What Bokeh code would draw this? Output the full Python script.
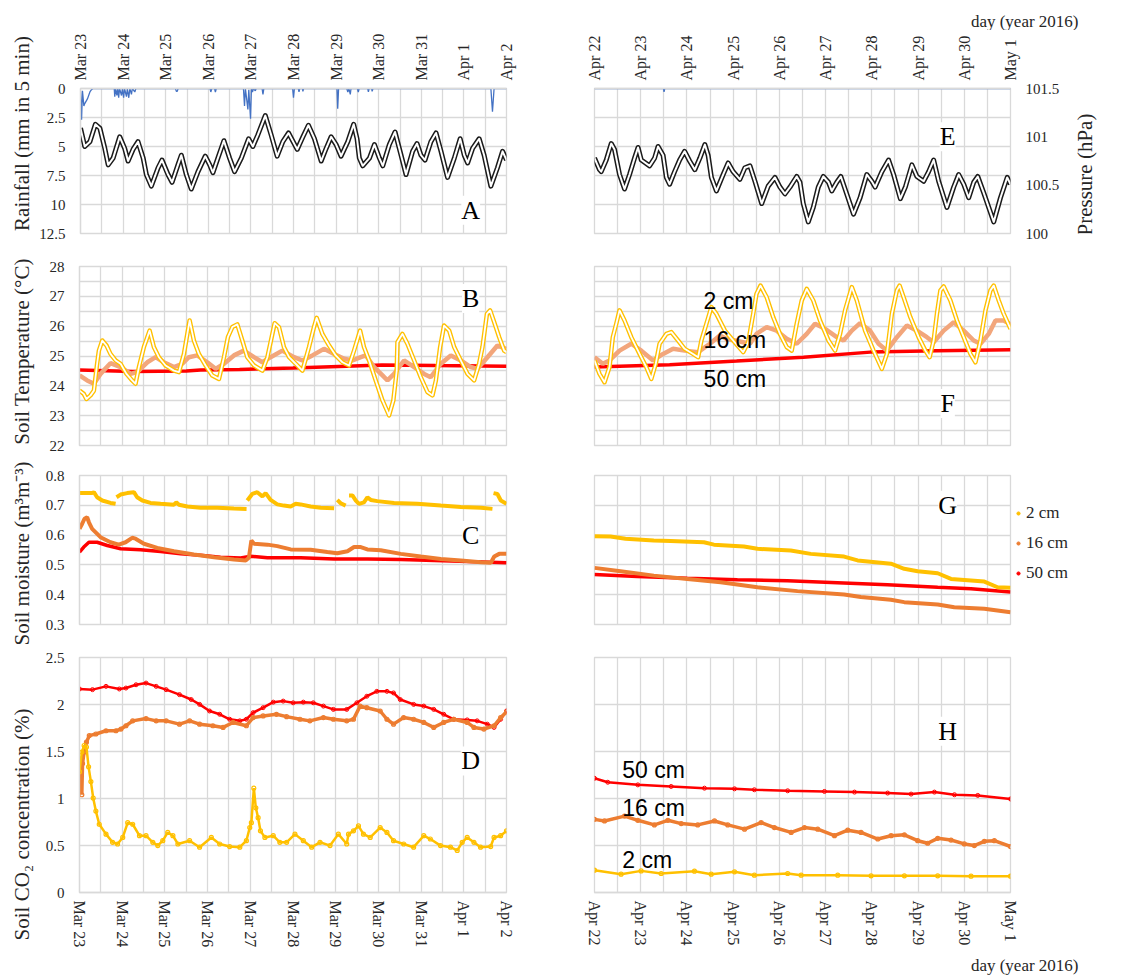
import math
from bokeh.plotting import figure
from bokeh.layouts import column, row
from bokeh.models import Range1d, LinearAxis, FixedTicker, Label, Legend, LegendItem, Title
from bokeh.embed import file_html
from bokeh.resources import INLINE

NAN = float("nan")

LEFT_DAY_LABELS = ["Mar 23", "Mar 24", "Mar 25", "Mar 26", "Mar 27", "Mar 28",
                   "Mar 29", "Mar 30", "Mar 31", "Apr 1", "Apr 2"]
RIGHT_DAY_LABELS = ["Apr 22", "Apr 23", "Apr 24", "Apr 25", "Apr 26", "Apr 27",
                    "Apr 28", "Apr 29", "Apr 30", "May 1"]

# All series: (hours since first midnight of the period, value)
RAIN_L = [(0, 0.2), (0.6, 2.7), (1.1, 0.2), (1.9, 1.5), (2.4, 1.3), (3.9, 0.9), (5.3, 0.3), (6.2, 0.1), (7.1, 0),
          (19.0, 0), (19.3, 0.7), (19.8, 0), (20.5, 0.6), (21.0, 0), (21.5, 0.8), (22.0, 0), (23.1, 0.6), (23.6, 0),
          (24.3, 0.8), (24.8, 0), (25.9, 0.7), (26.4, 0), (27.2, 0.8), (27.8, 0), (28.7, 0.5), (29.2, 0), (30.6, 0.3),
          (31.2, 0), (53.5, 0), (54.0, 0.25), (54.5, 0.25), (55.0, 0), (73.0, 0), (73.4, 0.3), (74.0, 0), (75.5, 0),
          (76.0, 0.3), (76.5, 0), (91.8, 0), (92.4, 1.5), (92.9, 0), (94.3, 1.8), (94.8, 0.1), (95.8, 2.6), (96.3, 0),
          (96.9, 0.3), (97.4, 0), (98.5, 0.2), (99.0, 0), (102.3, 0), (102.8, 0.5), (103.3, 0), (119.5, 0), (120.0, 0.8),
          (120.5, 0), (122.7, 0), (123.1, 0.3), (123.5, 0), (125.0, 0), (125.3, 0.25), (125.7, 0), (144.5, 0),
          (144.9, 1.75), (145.4, 0), (150.0, 0), (150.6, 0.3), (151.2, 0), (152.0, 0.5), (152.4, 0), (156.0, 0),
          (156.5, 0.3), (157.0, 0), (161.8, 0), (162.2, 0.3), (162.6, 0), (164.0, 0), (164.3, 0.25), (164.8, 0),
          (231.2, 0), (232.1, 2.0), (233.0, 0), (240.0, 0)]
RAIN_R = [(0, 0), (35.8, 0), (36.1, 0.3), (36.5, 0), (216, 0)]

PRES_L = [(0, 101.09), (2.4, 100.90), (5.3, 100.95), (8.4, 101.13), (10.9, 101.09), (13.7, 100.88), (15.6, 100.71),
          (18.4, 100.78), (22.1, 101.00), (24.9, 100.88), (26.8, 100.75), (29.6, 100.87), (32.4, 100.95), (35.3, 100.78),
          (37.1, 100.61), (39.9, 100.49), (43.7, 100.68), (45.9, 100.76), (49.3, 100.61), (51.6, 100.53), (54.9, 100.71),
          (56.8, 100.81), (59.6, 100.61), (62.4, 100.46), (66.2, 100.64), (70.3, 100.80), (72.8, 100.71), (74.6, 100.63),
          (77.4, 100.78), (80.8, 100.96), (84.0, 100.78), (86.8, 100.64), (90.6, 100.78), (94.7, 100.98), (97.1, 100.90),
          (99.9, 101.02), (104.1, 101.22), (107.4, 101.02), (110.8, 100.80), (114.0, 100.95), (117.2, 101.04),
          (122.1, 100.87), (125.3, 101.00), (128.4, 101.12), (131.8, 100.98), (135.6, 100.75), (138.4, 100.88),
          (141.2, 101.00), (144.0, 100.92), (146.8, 100.80), (150.6, 100.95), (153.9, 101.13), (155.8, 100.98),
          (157.1, 100.78), (159.0, 100.70), (162.8, 100.78), (165.6, 100.92), (168.4, 100.78), (170.3, 100.70),
          (174.0, 100.92), (177.2, 101.05), (180.6, 100.81), (183.4, 100.61), (187.1, 100.85), (189.6, 100.93),
          (191.8, 100.81), (194.1, 100.76), (197.4, 100.95), (200.3, 101.04), (203.1, 100.85), (206.8, 100.58),
          (210.6, 100.78), (213.9, 100.98), (216.2, 100.81), (218.1, 100.73), (220.9, 100.88), (224.6, 100.98),
          (227.4, 100.81), (231.2, 100.49), (234.9, 100.68), (237.8, 100.85), (240.0, 100.76)]
PRES_R = [(0, 100.78), (2.6, 100.66), (3.5, 100.64), (6.1, 100.76), (8.7, 100.93), (10.4, 100.87), (13.0, 100.61),
          (15.6, 100.46), (18.2, 100.61), (20.8, 100.78), (22.6, 100.89), (24.3, 100.76), (28.6, 100.70), (31.2, 100.78),
          (33.0, 100.90), (35.6, 100.81), (37.3, 100.58), (39.0, 100.51), (41.6, 100.64), (44.2, 100.76), (46.8, 100.85),
          (49.4, 100.75), (52.1, 100.66), (54.7, 100.78), (57.3, 100.92), (59.0, 100.81), (60.7, 100.58), (63.3, 100.44),
          (66.8, 100.61), (69.4, 100.73), (72.0, 100.64), (75.5, 100.56), (78.1, 100.68), (80.7, 100.70), (83.3, 100.54),
          (86.8, 100.31), (90.2, 100.49), (93.7, 100.58), (96.3, 100.48), (98.9, 100.41), (101.5, 100.48),
          (105.0, 100.59), (106.7, 100.53), (108.4, 100.31), (111.0, 100.12), (113.6, 100.27), (116.2, 100.48),
          (118.8, 100.59), (121.5, 100.53), (123.2, 100.44), (125.8, 100.53), (127.9, 100.59), (130.1, 100.46),
          (134.5, 100.20), (137.9, 100.37), (141.4, 100.61), (144.0, 100.54), (145.7, 100.48), (149.2, 100.64),
          (152.7, 100.76), (155.3, 100.61), (158.8, 100.36), (161.4, 100.48), (164.8, 100.71), (167.4, 100.59),
          (170.9, 100.54), (173.5, 100.64), (176.1, 100.76), (178.7, 100.54), (183.0, 100.27), (186.5, 100.48),
          (189.1, 100.61), (191.7, 100.51), (194.3, 100.37), (196.9, 100.53), (199.0, 100.59), (202.1, 100.42),
          (207.3, 100.12), (210.8, 100.37), (214.3, 100.58), (216.0, 100.51)]

T2_L = [(0, 23.84), (2.4, 23.73), (3.9, 23.56), (6.2, 23.68), (8.1, 23.84), (9.9, 24.74), (10.9, 25.18), (12.8, 25.52),
        (15.2, 25.35), (17.4, 25.07), (20.3, 24.85), (23.1, 24.74), (26.4, 24.40), (29.6, 24.18), (31.5, 24.07),
        (33.4, 24.63), (36.2, 25.30), (39.4, 25.85), (41.8, 25.30), (44.6, 24.96), (48.4, 24.68), (53.1, 24.51),
        (55.9, 24.46), (58.7, 25.07), (61.9, 26.19), (64.3, 25.52), (67.1, 25.07), (70.9, 24.68), (74.6, 24.35),
        (78.4, 24.23), (81.2, 24.96), (83.4, 25.63), (85.9, 25.97), (88.7, 26.06), (91.5, 25.52), (94.3, 24.96),
        (98.1, 24.68), (102.8, 24.51), (105.6, 24.96), (108.4, 25.74), (109.7, 26.10), (112.1, 25.97), (114.9, 25.30),
        (117.8, 24.96), (121.5, 24.74), (125.3, 24.51), (129.0, 25.30), (131.8, 25.97), (133.3, 26.28), (136.5, 25.74),
        (140.3, 25.35), (144.0, 25.02), (147.8, 24.79), (151.5, 24.68), (154.3, 25.18), (157.7, 25.85), (159.9, 25.30),
        (162.8, 24.85), (166.5, 24.18), (170.3, 23.51), (174.0, 23.01), (176.4, 23.51), (178.3, 24.51), (178.7, 25.46),
        (181.5, 25.74), (184.3, 25.41), (188.1, 24.85), (191.8, 24.29), (195.6, 23.79), (198.4, 23.68), (200.3, 24.18),
        (202.7, 25.30), (204.9, 26.02), (207.8, 25.85), (210.6, 25.30), (214.3, 24.85), (218.1, 24.40), (221.8, 24.18),
        (224.6, 24.74), (226.5, 25.30), (229.0, 26.41), (230.8, 26.53), (233.1, 26.13), (235.9, 25.63), (238.7, 25.18),
        (240.0, 25.13)]
T16_L = [(0, 24.35), (4.3, 24.18), (8.1, 24.07), (11.8, 24.40), (17.4, 24.76), (23.1, 24.63), (28.7, 24.40),
         (32.4, 24.46), (38.1, 24.79), (42.8, 24.96), (47.4, 24.79), (53.1, 24.63), (57.8, 24.74), (61.5, 24.96),
         (66.2, 25.02), (71.8, 24.79), (76.5, 24.57), (81.2, 24.74), (86.8, 25.02), (92.4, 25.18), (98.1, 24.96),
         (102.8, 24.79), (107.4, 24.96), (114.0, 25.18), (120.6, 24.96), (125.3, 24.85), (130.9, 25.02), (137.4, 25.24),
         (143.1, 25.07), (148.7, 24.91), (153.4, 24.85), (158.1, 24.96), (160.9, 25.02), (165.6, 24.63), (170.3, 24.35),
         (173.1, 24.18), (176.8, 24.40), (182.4, 24.85), (188.1, 24.63), (193.7, 24.40), (197.4, 24.29), (203.1, 24.74),
         (208.7, 25.02), (214.3, 24.85), (219.9, 24.63), (223.7, 24.57), (229.3, 24.96), (234.9, 25.35), (240.0, 25.24)]
T50_L = [(0, 24.53), (30, 24.48), (60, 24.50), (68, 24.53), (90, 24.55), (120, 24.60), (150, 24.66), (170, 24.70),
         (200, 24.68), (240, 24.66)]

T2_R = [(0, 24.85), (2.6, 24.40), (5.2, 24.12), (7.8, 24.63), (9.5, 25.63), (11.3, 26.08), (13.0, 26.53), (15.6, 26.19),
        (19.1, 25.63), (23.4, 25.07), (26.9, 24.63), (29.5, 24.23), (31.8, 24.74), (33.8, 25.41), (37.3, 25.74),
        (39.9, 25.80), (43.4, 25.52), (46.8, 25.24), (51.2, 25.07), (53.8, 24.96), (55.5, 25.52), (58.1, 26.08),
        (60.7, 26.64), (63.3, 26.41), (67.7, 25.85), (72.0, 25.52), (77.2, 25.13), (79.8, 25.46), (82.4, 26.41),
        (84.1, 27.08), (86.2, 27.36), (89.4, 26.97), (92.8, 26.30), (96.3, 25.74), (99.8, 25.30), (102.4, 25.18),
        (105.0, 26.08), (107.6, 26.86), (110.2, 27.25), (113.6, 26.86), (117.1, 26.19), (121.5, 25.52), (124.9, 25.18),
        (127.5, 25.74), (130.1, 26.53), (133.6, 27.31), (136.2, 26.86), (140.5, 25.85), (144.9, 25.18), (149.2, 24.57),
        (151.8, 25.07), (154.4, 26.41), (157.0, 27.20), (158.4, 27.36), (160.5, 26.97), (164.0, 26.30), (168.3, 25.63),
        (171.8, 25.18), (174.0, 24.96), (176.1, 25.52), (177.8, 26.41), (179.6, 27.20), (181.3, 27.33), (184.8, 26.86),
        (188.2, 26.19), (191.7, 25.63), (195.2, 25.07), (197.8, 24.79), (200.4, 25.52), (203.0, 26.53), (205.6, 27.20),
        (207.3, 27.36), (209.9, 26.86), (212.5, 26.41), (216.0, 25.91)]
T16_R = [(0, 24.96), (4.3, 24.74), (7.8, 24.85), (13.0, 25.18), (19.1, 25.41), (24.3, 25.18), (30.4, 24.85),
         (35.6, 25.07), (40.8, 25.24), (46.8, 25.18), (53.8, 25.13), (59.9, 25.41), (65.1, 25.69), (68.5, 25.58),
         (77.2, 25.46), (80.7, 25.41), (84.1, 25.74), (89.4, 25.97), (94.6, 25.85), (99.8, 25.58), (105.0, 25.41),
         (110.2, 25.74), (114.5, 26.08), (119.7, 25.91), (125.8, 25.63), (129.3, 25.52), (133.6, 25.85), (137.9, 26.10),
         (143.1, 25.85), (147.5, 25.41), (151.8, 25.18), (157.0, 25.63), (162.2, 26.02), (167.4, 25.85), (172.6, 25.63),
         (176.1, 25.46), (181.3, 25.85), (186.5, 26.13), (191.7, 25.85), (196.9, 25.52), (200.4, 25.41), (204.7, 25.74),
         (208.2, 26.19), (212.5, 26.19), (216.0, 26.06)]
T50_R = [(0, 24.63), (39, 24.71), (73.8, 24.83), (108.5, 24.96), (143.2, 25.13), (177.9, 25.18), (216, 25.21)]

M2_L = [(0, 0.741), (7.1, 0.741), (8.1, 0.744), (9.9, 0.727), (12.8, 0.716), (17.4, 0.708), (20.3, 0.705), (20.5, NAN),
        (20.8, 0.727), (23.1, 0.736), (26.8, 0.741), (30.6, 0.744), (32.4, 0.727), (35.3, 0.716), (39.9, 0.708),
        (45.6, 0.705), (53.1, 0.702), (54.4, 0.710), (55.9, 0.702), (60.6, 0.696), (68.1, 0.692), (77.4, 0.692),
        (86.8, 0.689), (93.9, 0.688), (94.1, NAN), (94.3, 0.716), (97.1, 0.738), (99.9, 0.744), (102.8, 0.730),
        (104.6, 0.741), (107.4, 0.718), (111.2, 0.703), (114.9, 0.699), (118.7, 0.696), (121.5, 0.705), (124.3, 0.703),
        (129.9, 0.696), (135.6, 0.692), (143.1, 0.690), (144.0, NAN), (144.9, 0.718), (146.8, 0.707), (149.6, 0.699),
        (150.5, NAN), (151.5, 0.733), (153.4, 0.733), (155.3, 0.716), (157.1, 0.705), (159.9, 0.710), (161.8, 0.727),
        (163.7, 0.718), (167.4, 0.714), (176.8, 0.708), (189.9, 0.705), (203.1, 0.699), (214.3, 0.694), (225.6, 0.692),
        (232.1, 0.688), (232.4, NAN), (232.7, 0.741), (234.9, 0.738), (236.8, 0.716), (240.0, 0.705)]
M16_L = [(0, 0.621), (1.5, 0.638), (2.8, 0.655), (4.3, 0.660), (5.3, 0.643), (7.1, 0.621), (11.8, 0.593), (17.4, 0.576),
         (22.1, 0.568), (25.9, 0.576), (29.6, 0.591), (31.5, 0.588), (36.2, 0.571), (43.7, 0.557), (53.1, 0.546),
         (64.3, 0.535), (75.6, 0.526), (86.8, 0.518), (93.4, 0.515), (95.2, 0.524), (96.6, 0.582), (98.1, 0.571),
         (105.6, 0.568), (111.2, 0.563), (118.7, 0.552), (129.9, 0.551), (139.3, 0.543), (144.9, 0.539), (150.6, 0.546),
         (154.3, 0.560), (158.1, 0.560), (161.8, 0.552), (169.3, 0.549), (180.6, 0.537), (191.8, 0.528), (203.1, 0.520),
         (214.3, 0.515), (225.6, 0.509), (231.2, 0.507), (233.1, 0.528), (235.9, 0.537), (240.0, 0.537)]
M50_L = [(0, 0.543), (2.4, 0.560), (5.3, 0.576), (9.9, 0.576), (15.6, 0.565), (23.1, 0.554), (34.3, 0.551),
         (45.6, 0.545), (56.8, 0.537), (68.1, 0.532), (79.3, 0.526), (90.6, 0.523), (96.2, 0.529), (105.6, 0.524),
         (124.3, 0.524), (143.1, 0.520), (161.8, 0.520), (180.6, 0.518), (199.3, 0.515), (218.1, 0.511), (240.0, 0.507)]

M2_R = [(0, 0.596), (8.3, 0.595), (16.1, 0.588), (30.8, 0.582), (39.5, 0.580), (56.8, 0.576), (62.0, 0.568),
        (77.6, 0.562), (84.6, 0.554), (101.9, 0.548), (112.3, 0.537), (129.6, 0.528), (136.6, 0.515), (153.9, 0.504),
        (160.8, 0.487), (167.8, 0.479), (178.2, 0.472), (185.1, 0.453), (202.4, 0.444), (209.3, 0.425), (216.0, 0.423)]
M16_R = [(0, 0.490), (13.5, 0.479), (30.8, 0.464), (48.2, 0.453), (65.5, 0.442), (84.6, 0.425), (105.4, 0.412),
         (129.6, 0.401), (138.3, 0.392), (153.9, 0.383), (160.8, 0.375), (178.2, 0.367), (186.8, 0.358), (202.4, 0.353),
         (216.0, 0.341)]
M50_R = [(0, 0.468), (22.2, 0.461), (48.2, 0.455), (74.2, 0.450), (100.2, 0.447), (126.1, 0.440), (152.1, 0.433),
         (178.2, 0.425), (195.5, 0.420), (216.0, 0.409)]

C50_L = [(0, 2.165), (7.3, 2.158), (14.9, 2.193), (22.4, 2.165), (26.1, 2.175), (31.8, 2.210), (37.4, 2.228),
         (43.1, 2.193), (48.7, 2.158), (56.2, 2.105), (62.8, 2.053), (67.5, 2.001), (73.1, 1.931), (78.8, 1.896),
         (84.4, 1.843), (90.1, 1.826), (93.8, 1.843), (97.6, 1.913), (103.2, 1.966), (108.9, 2.025), (114.5, 2.036),
         (120.1, 2.018), (125.8, 2.025), (131.4, 2.018), (137.1, 1.983), (142.7, 1.948), (150.2, 1.948), (155.9, 2.018),
         (161.5, 2.088), (167.1, 2.140), (172.8, 2.140), (176.5, 2.123), (180.3, 2.053), (187.8, 2.001), (193.5, 1.983),
         (199.1, 1.948), (204.7, 1.896), (210.4, 1.843), (217.9, 1.836), (223.5, 1.826), (229.2, 1.791), (233.0, 1.756),
         (236.7, 1.843), (240.0, 1.931)]
C16_L = [(0, 1.320), (0.4, 1.302), (1.3, 1.040), (1.7, 1.372), (2.6, 1.494), (3.9, 1.599), (5.5, 1.669), (9.2, 1.686),
         (14.9, 1.721), (20.5, 1.721), (23.3, 1.739), (26.1, 1.774), (29.9, 1.826), (37.4, 1.850), (43.1, 1.826),
         (48.7, 1.826), (56.2, 1.791), (61.9, 1.826), (67.5, 1.791), (75.0, 1.774), (80.7, 1.756), (86.3, 1.809),
         (93.8, 1.774), (97.6, 1.861), (103.2, 1.878), (110.7, 1.896), (116.4, 1.871), (123.9, 1.843), (129.5, 1.826),
         (137.1, 1.861), (142.7, 1.843), (150.2, 1.826), (154.0, 1.843), (157.7, 1.983), (161.5, 1.966), (169.0, 1.931),
         (172.8, 1.843), (176.5, 1.791), (182.2, 1.861), (187.8, 1.843), (193.5, 1.809), (199.1, 1.756), (204.7, 1.809),
         (210.4, 1.843), (217.9, 1.809), (221.7, 1.756), (227.3, 1.739), (233.0, 1.774), (236.7, 1.861), (240.0, 1.920)]
C2_L = [(0, 1.285), (1.3, 1.494), (2.6, 1.564), (3.9, 1.547), (5.1, 1.337), (6.4, 1.180), (7.7, 1.005), (9.2, 0.866),
        (11.1, 0.726), (14.9, 0.621), (18.6, 0.534), (21.4, 0.516), (24.3, 0.586), (27.1, 0.743), (29.9, 0.726),
        (33.7, 0.604), (37.4, 0.604), (41.2, 0.534), (44.0, 0.499), (46.8, 0.551), (49.6, 0.639), (52.5, 0.604),
        (55.3, 0.516), (61.9, 0.551), (67.5, 0.482), (74.1, 0.586), (78.8, 0.516), (84.4, 0.489), (90.1, 0.482),
        (93.8, 0.551), (95.7, 0.691), (96.6, 0.743), (98.0, 1.110), (99.1, 0.901), (100.4, 0.796), (101.7, 0.656),
        (104.2, 0.586), (108.9, 0.604), (112.6, 0.534), (116.4, 0.534), (121.1, 0.621), (125.8, 0.551), (130.5, 0.482),
        (135.2, 0.534), (140.8, 0.499), (145.5, 0.621), (150.2, 0.516), (151.2, 0.621), (154.0, 0.656), (156.8, 0.708),
        (159.6, 0.621), (163.4, 0.586), (169.0, 0.691), (172.8, 0.639), (176.5, 0.551), (182.2, 0.516), (187.8, 0.482),
        (193.5, 0.604), (197.2, 0.569), (202.9, 0.499), (208.5, 0.482), (212.3, 0.447), (215.1, 0.534), (217.9, 0.586),
        (221.7, 0.534), (225.4, 0.482), (231.1, 0.489), (233.0, 0.586), (236.7, 0.604), (240.0, 0.656)]

C50_R = [(0, 1.215), (6.9, 1.173), (22.5, 1.145), (39.8, 1.128), (57.1, 1.110), (72.7, 1.103), (83.0, 1.093),
         (100.3, 1.082), (119.4, 1.075), (135.0, 1.068), (152.2, 1.058), (164.4, 1.047), (176.5, 1.068), (186.9, 1.040),
         (199.0, 1.033), (216.0, 0.995)]
C16_R = [(0, 0.778), (5.2, 0.761), (15.6, 0.813), (22.5, 0.768), (31.1, 0.719), (38.1, 0.768), (45.0, 0.733),
         (53.6, 0.719), (62.3, 0.761), (69.2, 0.719), (77.9, 0.674), (86.5, 0.744), (93.4, 0.691), (102.1, 0.639),
         (109.0, 0.691), (115.9, 0.674), (124.6, 0.604), (131.5, 0.663), (138.4, 0.639), (147.1, 0.569), (154.0, 0.604),
         (160.9, 0.614), (167.8, 0.551), (173.0, 0.524), (178.2, 0.576), (185.1, 0.558), (192.0, 0.517), (197.2, 0.499),
         (202.4, 0.544), (207.6, 0.551), (216.0, 0.489)]
C2_R = [(0, 0.237), (13.8, 0.195), (24.2, 0.230), (34.6, 0.202), (51.9, 0.227), (60.6, 0.195), (72.7, 0.220),
        (83.0, 0.184), (100.3, 0.202), (107.3, 0.184), (126.3, 0.184), (143.6, 0.177), (160.9, 0.177), (178.2, 0.177),
        (195.5, 0.174), (216.0, 0.174)]

Y_LABELS = ["Rainfall (mm in 5 min)", "Soil Temperature (°C)", "Soil moisture (m³m⁻³)", "Soil CO₂ concentration (%)"]
DEPTHS = ["2 cm", "16 cm", "50 cm"]
X_TITLE = "day (year 2016)"
P_TITLE = "Pressure (hPa)"

# ---------------------------------------------------------------- styling
SERIF = "Liberation Serif"
SANS = "Liberation Sans"
GRID = "#D9D9D9"
TXT = "#262626"
YEL = "#FFC000"
ORA = "#ED7D31"
SAL = "#F2A67C"
RED = "#FF0000"
BLUE = "#4472C4"

STRIP_W = 36
TOP_H = 30
FIG_W = [514, 597]
MB_L = [43, 44]
MB_R = [44, 137]
HEIGHTS = [249 - TOP_H, 211, 180, 339]
TOPS = [86 - TOP_H, 17, 15, 17]
BOTS = [16, 15, 16, 83]
LEG_W = 133
PSTRIP_W = 85


def xy(pairs):
    return [h / 24.0 for h, _ in pairs], [v for _, v in pairs]


def blank(w, hgt, yflip=True):
    p = figure(width=w, height=hgt, x_range=Range1d(0, w), y_range=Range1d(hgt, 0) if yflip else Range1d(0, hgt),
               output_backend="svg", toolbar_location=None, title=None, min_border=0,
               x_axis_location=None, y_axis_location=None, outline_line_color=None,
               background_fill_color="white", border_fill_color="white")
    p.grid.visible = False
    return p


def make(col, r, y_range, yticks, ygrid, width=None, mb_right=None):
    ndays = 10 if col == 0 else 9
    labels = LEFT_DAY_LABELS if col == 0 else RIGHT_DAY_LABELS
    p = figure(width=width or FIG_W[col], height=HEIGHTS[r], x_range=Range1d(0, ndays), y_range=y_range,
               output_backend="svg", toolbar_location=None, title=None,
               x_axis_location="above" if r == 0 else "below",
               min_border_left=MB_L[col], min_border_right=mb_right if mb_right is not None else MB_R[col],
               min_border_top=TOPS[r], min_border_bottom=BOTS[r],
               background_fill_color="white", border_fill_color="white",
               outline_line_color=GRID, outline_line_width=1.3)
    xa = p.xaxis[0]
    xa.ticker = FixedTicker(ticks=list(range(ndays + 1)))
    xa.major_label_overrides = {i: labels[i] for i in range(ndays + 1)}
    xa.major_label_orientation = "vertical"
    xa.major_label_standoff = 8
    if r in (1, 2):
        xa.visible = False
    ya = p.yaxis[0]
    ya.ticker = FixedTicker(ticks=yticks)
    ya.major_label_standoff = 15
    if col == 1:
        ya.visible = False
    for ax in (xa, ya):
        ax.axis_line_color = GRID
        ax.axis_line_width = 1.3
        ax.major_tick_line_color = None
        ax.minor_tick_line_color = None
        ax.major_tick_out = 0
        ax.major_tick_in = 0
        ax.major_label_text_font = SERIF
        ax.major_label_text_color = TXT
    xa.major_label_text_font_size = "16px"
    ya.major_label_text_font_size = "15px"
    p.xgrid.ticker = FixedTicker(ticks=[i * 0.5 for i in range(2 * ndays + 1)])
    p.ygrid.ticker = FixedTicker(ticks=ygrid)
    p.grid.grid_line_color = GRID
    p.grid.grid_line_width = 1.3
    return p


def letter(p, x, y, t):
    p.add_layout(Label(x=x, y=y, text=t, text_align="center", text_baseline="middle",
                       text_font=SERIF, text_font_size="26px", text_color="black",
                       background_fill_color="white", background_fill_alpha=1.0))


def note(p, x, y, t):
    p.add_layout(Label(x=x, y=y, text=t, text_align="left", text_baseline="middle",
                       text_font=SANS, text_font_size="23px", text_color="black"))


def tube(p, pairs, color, outer=5, inner=2.2, **kw):
    x, y = xy(pairs)
    p.line(x, y, line_color=color, line_width=outer, line_join="round", **kw)
    p.line(x, y, line_color="white", line_width=inner, line_join="round", **kw)


def dotted(p, pairs, color, size=5, lw=1.0, line_w=1.0, **kw):
    x, y = xy(pairs)
    p.line(x, y, line_color=color, line_width=line_w, **kw)
    p.scatter(x, y, marker="circle", size=size, fill_color=None, line_color=color, line_width=lw, **kw)


def band(p, pairs, color, w):
    x, y = xy(pairs)
    p.line(x, y, line_color=color, line_width=w)


# ---------------------------------------------------------------- text strips
strip = blank(STRIP_W, 979)
for txt, yc in zip(Y_LABELS, (133, 351, 553, 824)):
    strip.add_layout(Label(x=21, y=yc, text=txt, angle=math.pi / 2, text_align="center",
                           text_baseline="middle", text_font=SERIF, text_font_size="21px",
                           text_color=TXT))

top = blank(1147 - STRIP_W, TOP_H)
top.add_layout(Label(x=1078 - STRIP_W, y=21, text=X_TITLE, text_align="right", text_baseline="middle",
                     text_font=SERIF, text_font_size="17px", text_color=TXT))

pstrip = blank(PSTRIP_W, HEIGHTS[0])
pstrip.add_layout(Label(x=22, y=160 - TOP_H, text=P_TITLE, angle=math.pi / 2, text_align="center",
                        text_baseline="middle", text_font=SERIF, text_font_size="21px", text_color=TXT))

# ---------------------------------------------------------------- row 1: rain + pressure
rain_ticks = [0, 2.5, 5, 7.5, 10, 12.5]
a = make(0, 0, Range1d(12.5, 0), rain_ticks, rain_ticks)
e = make(1, 0, Range1d(12.5, 0), rain_ticks, rain_ticks,
         width=FIG_W[1] - PSTRIP_W, mb_right=MB_R[1] - PSTRIP_W)
for p, rain, pres in ((a, RAIN_L, PRES_L), (e, RAIN_R, PRES_R)):
    p.extra_y_ranges = {"p": Range1d(100, 101.5)}
    x, y = xy(rain)
    p.line(x, y, line_color=BLUE, line_width=1.3)
    tube(p, pres, "#1a1a1a", outer=5.0, inner=2.0, y_range_name="p")
pa = LinearAxis(y_range_name="p", ticker=FixedTicker(ticks=[100, 100.5, 101, 101.5]))
pa.axis_line_color = None
pa.major_tick_line_color = None
pa.minor_tick_line_color = None
pa.major_tick_out = 0
pa.major_label_standoff = 15
pa.major_label_text_font = SERIF
pa.major_label_text_font_size = "15px"
pa.major_label_text_color = TXT
e.add_layout(pa, "right")
letter(a, 9.16, 10.5, "A")
letter(e, 7.64, 4.17, "E")

# ---------------------------------------------------------------- row 2: soil temperature
t_ticks = [22, 23, 24, 25, 26, 27, 28]
t_grid = [22 + 0.5 * i for i in range(13)]
b = make(0, 1, Range1d(22, 28), t_ticks, t_grid)
f = make(1, 1, Range1d(22, 28), t_ticks, t_grid)
for p, s2, s16, s50 in ((b, T2_L, T16_L, T50_L), (f, T2_R, T16_R, T50_R)):
    band(p, s50, RED, 3.5)
    band(p, s16, SAL, 4.5)
    tube(p, s2, YEL, outer=4.5, inner=1.8)
letter(b, 9.16, 26.93, "B")
letter(f, 7.64, 23.41, "F")
note(f, 2.36, 26.84, DEPTHS[0])
note(f, 2.36, 25.52, DEPTHS[1])
note(f, 2.36, 24.23, DEPTHS[2])

# ---------------------------------------------------------------- row 3: soil moisture
m_ticks = [0.3, 0.4, 0.5, 0.6, 0.7, 0.8]
c = make(0, 2, Range1d(0.3, 0.8), m_ticks, m_ticks)
g = make(1, 2, Range1d(0.3, 0.8), m_ticks, m_ticks, width=FIG_W[1] - LEG_W, mb_right=MB_R[1] - LEG_W)
for p, s2, s16, s50 in ((c, M2_L, M16_L, M50_L), (g, M2_R, M16_R, M50_R)):
    band(p, s50, RED, 3.5)
    band(p, s16, ORA, 4)
    band(p, s2, YEL, 4)
letter(c, 9.16, 0.599, "C")
letter(g, 7.64, 0.70, "G")

legfig = blank(LEG_W, HEIGHTS[2], yflip=False)
items = []
for lab, colr in zip(DEPTHS, (YEL, ORA, RED)):
    rr = legfig.scatter(x=[NAN], y=[NAN], marker="circle", size=5, fill_color=colr, line_color=colr)
    items.append(LegendItem(label=lab, renderers=[rr]))
leg = Legend(items=items, location=(0, 41), border_line_color=None, background_fill_alpha=0,
             label_text_font=SERIF, label_text_font_size="17px", label_text_color=TXT,
             glyph_width=8, glyph_height=20, label_height=20, spacing=10, padding=0, margin=0,
             label_standoff=4)
legfig.add_layout(leg, "center")

# ---------------------------------------------------------------- row 4: soil CO2
c_ticks = [0, 0.5, 1, 1.5, 2, 2.5]
d = make(0, 3, Range1d(0, 2.5), c_ticks, c_ticks)
h = make(1, 3, Range1d(0, 2.5), c_ticks, c_ticks)
for p, s2, s16, s50 in ((d, C2_L, C16_L, C50_L), (h, C2_R, C16_R, C50_R)):
    dotted(p, s50, RED, size=4, lw=1.0, line_w=2.5)
    dotted(p, s16, ORA, size=4, lw=1.2, line_w=3.5)
    dotted(p, s2, YEL, size=4, lw=1.2, line_w=2.5)
letter(d, 9.16, 1.40, "D")
letter(h, 7.64, 1.715, "H")
note(h, 0.60, 1.30, DEPTHS[2])
note(h, 0.60, 0.90, DEPTHS[1])
note(h, 0.60, 0.345, DEPTHS[0])
h.add_layout(Title(text=X_TITLE, align="right", offset=-68, text_font=SERIF,
                   text_font_size="17px", text_font_style="normal", text_color=TXT), "below")

layout = row(strip, column(top, row(a, e, pstrip), row(b, f), row(c, g, legfig), row(d, h)))
open("out.html", "w").write(file_html(layout, INLINE))
